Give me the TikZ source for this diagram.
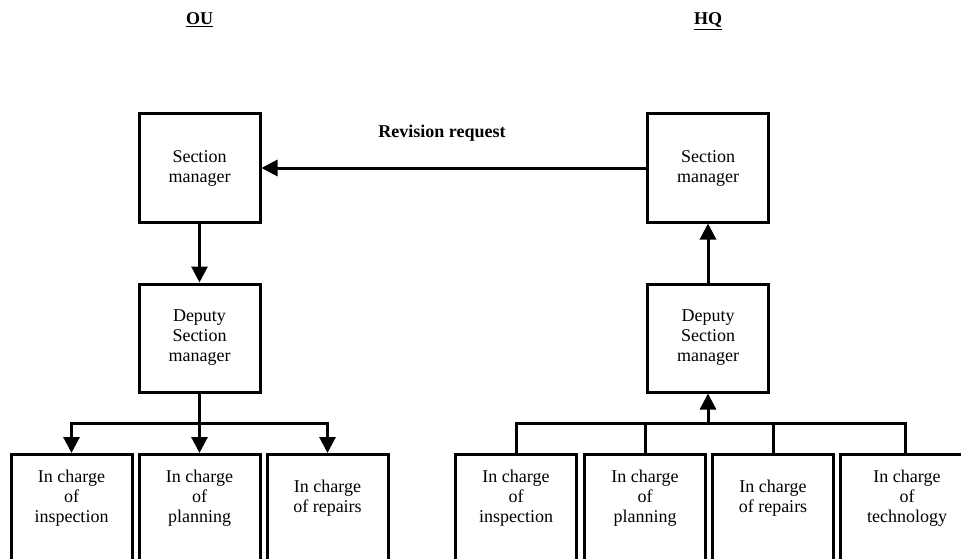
\documentclass[tikz,border=0pt]{standalone}
\usepackage{fontspec}
\setmainfont{Liberation Serif}
\usetikzlibrary{arrows.meta}
\begin{document}
\begin{tikzpicture}[x=1pt,y=-1pt,
  box/.style={draw,line width=3pt,minimum width=121pt,minimum height=108pt,inner sep=0pt,align=center,font=\fontsize{18}{20}\selectfont},
  leaf/.style={draw,line width=3pt,minimum width=121pt,minimum height=130pt,anchor=north,inner sep=0pt},
  leaftext/.style={align=center,inner sep=0pt,font=\fontsize{18}{20}\selectfont},
  link/.style={line width=3pt},
  tip/.tip={Triangle[length=16pt,width=16pt]},
  arr/.style={link,-tip},
  head/.style={font=\bfseries\fontsize{18}{20}\selectfont,anchor=base,inner sep=0pt}]
\useasboundingbox (0,0) rectangle (961,559);
\clip (0,0) rectangle (961,559);

% column headings
\node[head] (ou) at (199.5,25) {\underline{OU}};
\node[head] (hq) at (708,25) {\underline{HQ}};

% managers
\node[box] (ousm)  at (199.5,168) {Section\\manager};
\node[box] (oudep) at (199.5,338) {Deputy\\Section\\manager};
\node[box] (hqsm)  at (708,168) {Section\\manager};
\node[box] (hqdep) at (708,338) {Deputy\\Section\\manager};

% OU staff
\node[leaf] (ou1) at (71.5,453) {};
\node[leaf] (ou2) at (199.5,453) {};
\node[leaf] (ou3) at (327.5,453) {};
\node[leaftext] (ou1t) at (71.5,498) {In charge\\of\\inspection};
\node[leaftext] (ou2t) at (199.5,498) {In charge\\of\\planning};
\node[leaftext] (ou3t) at (327.5,498) {In charge\\of repairs};

% HQ staff
\node[leaf] (hq1) at (516,453) {};
\node[leaf] (hq2) at (645,453) {};
\node[leaf] (hq3) at (773,453) {};
\node[leaf,minimum width=130pt] (hq4) at (905,453) {};
\node[leaftext] (hq1t) at (516,498) {In charge\\of\\inspection};
\node[leaftext] (hq2t) at (645,498) {In charge\\of\\planning};
\node[leaftext] (hq3t) at (773,498) {In charge\\of repairs};
\node[leaftext] (hq4t) at (907,498) {In charge\\of\\technology};

% revision request
\node[head] (rev) at (442,138) {Revision request};
\draw[arr] (hqsm.west) -- (ousm.east);

% OU chain
\coordinate (oubus) at (199.5,423);
\draw[arr] (ousm.south) -- (oudep.north);
\draw[arr] (oudep.south) -- (ou2.north);
\draw[link,tip-tip] (ou1.north) -- (ou1.north |- oubus) -- (ou3.north |- oubus) -- (ou3.north);

% HQ chain
\coordinate (hqbus) at (708,423);
\draw[link] (hq1.north) -- (hq1.north |- hqbus) -- (hq4.north |- hqbus) -- (hq4.north);
\draw[link] (hq2.north) -- (hq2.north |- hqbus);
\draw[link] (hq3.north) -- (hq3.north |- hqbus);
\draw[arr] (hqbus) -- (hqdep.south);
\draw[arr] (hqdep.north) -- (hqsm.south);
\end{tikzpicture}
\end{document}
